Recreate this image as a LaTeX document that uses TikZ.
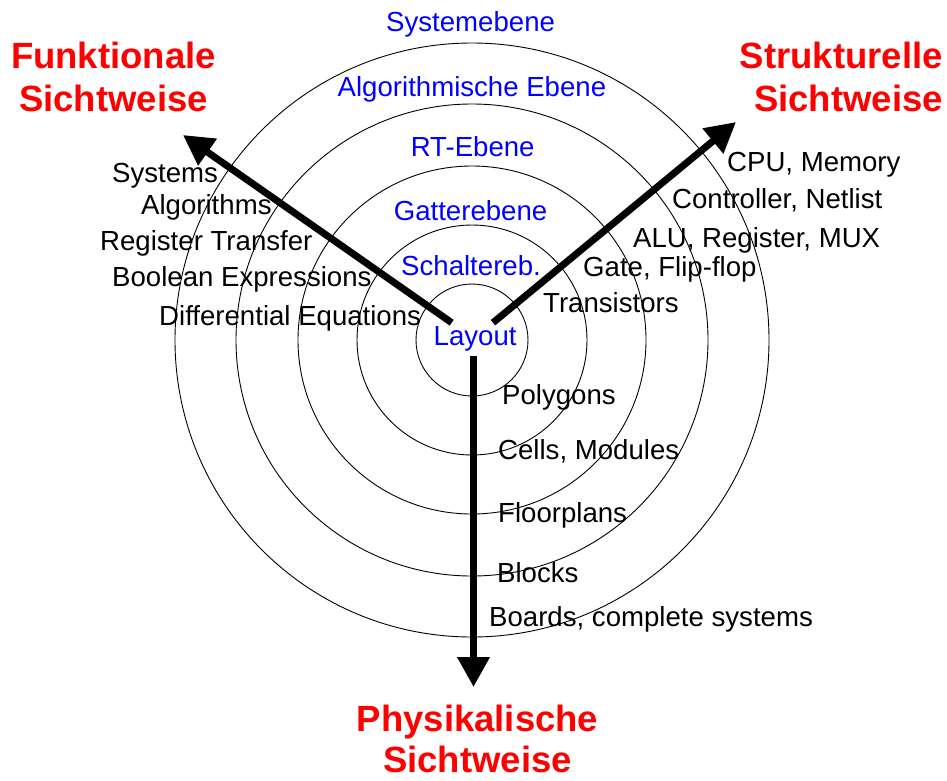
\documentclass[tikz,border=0pt]{standalone}
\usepackage{fontspec}
\setmainfont{Liberation Sans}
\usetikzlibrary{arrows.meta}

\begin{document}
\begin{tikzpicture}
  [
    x=1pt,
    y=-1pt,
    ring/.style={
      line width=0.9pt
    },
    level/.style={
      text=blue,
      font=\fontsize{27.6}{33}\selectfont,
      inner sep=0pt,
      anchor=base west
    },
    item/.style={
      level,
      text=black
    },
    view/.style={
      text=red,
      font=\fontsize{36.5}{43}\selectfont\bfseries,
      inner sep=0pt
    },
    axis/.style={
      line width=7pt,
      -{Triangle[length=30pt,width=31pt]}
    }
  ]
  \useasboundingbox (0,0) rectangle (947,780);

  % rings
  \coordinate (c) at (472,340);
  \foreach \r in {56,115,174,236,297} {
    \draw [ring] (c) circle [radius=\r pt];
  }

  % levels
  \foreach \n/\x/\y/\t in {sys/386/31.7/Systemebene,alg/337.5/96/Algorithmische Ebene,
                          rt/410.6/156.5/RT-Ebene,gat/393.6/220/Gatterebene,
                          sch/401/275/Schaltereb.,lay/433.5/345.5/Layout} {
    \node [level] (\n) at (\x,\y) {\t};
  }

  % functional view
  \foreach \n/\x/\y/\t in {systems/112/182/Systems,algorithms/141/214/Algorithms,
                          regtrans/100/250/Register Transfer,boolean/112/286/Boolean Expressions,
                          diffeq/159/325/Differential Equations} {
    \node [item] (\n) at (\x,\y) {\t};
  }

  % structural view
  \foreach \n/\x/\y/\t in {cpu/727/171/{CPU, Memory},ctrl/672/208/{Controller, Netlist},
                          alu/633/247/{ALU, Register, MUX},gate/583/276/{Gate, Flip-flop},
                          trans/543/312/Transistors} {
    \node [item] (\n) at (\x,\y) {\t};
  }

  % physical view
  \foreach \n/\x/\y/\t in {poly/502/404/Polygons,cells/498/459/{Cells, Modules},
                          floor/498/522/Floorplans,blocks/497/582/Blocks,
                          boards/489/626/{Boards, complete systems}} {
    \node [item] (\n) at (\x,\y) {\t};
  }

  % views (base = last line)
  \node [view, align=center, anchor=base] (funk) at (113.5,111) {Funktionale\\Sichtweise};
  \node [view, align=right, anchor=base east] (strukt) at (943,111) {Strukturelle\\Sichtweise};
  \node [view, align=center, anchor=base] (phys) at (477.5,772) {Physikalische\\[-2pt]Sichtweise};

  % axes
  \coordinate (fstart) at (451.7,322.7);
  \coordinate (ftip) at (183,135);
  \coordinate (sstart) at (493,322.7);
  \coordinate (stip) at (736,122);
  \coordinate (pstart) at (473.5,356);
  \coordinate (ptip) at (473.5,687);
  \draw [axis] (fstart) -- (ftip);
  \draw [axis] (sstart) -- (stip);
  \draw [axis] (pstart) -- (ptip);
\end{tikzpicture}
\end{document}
